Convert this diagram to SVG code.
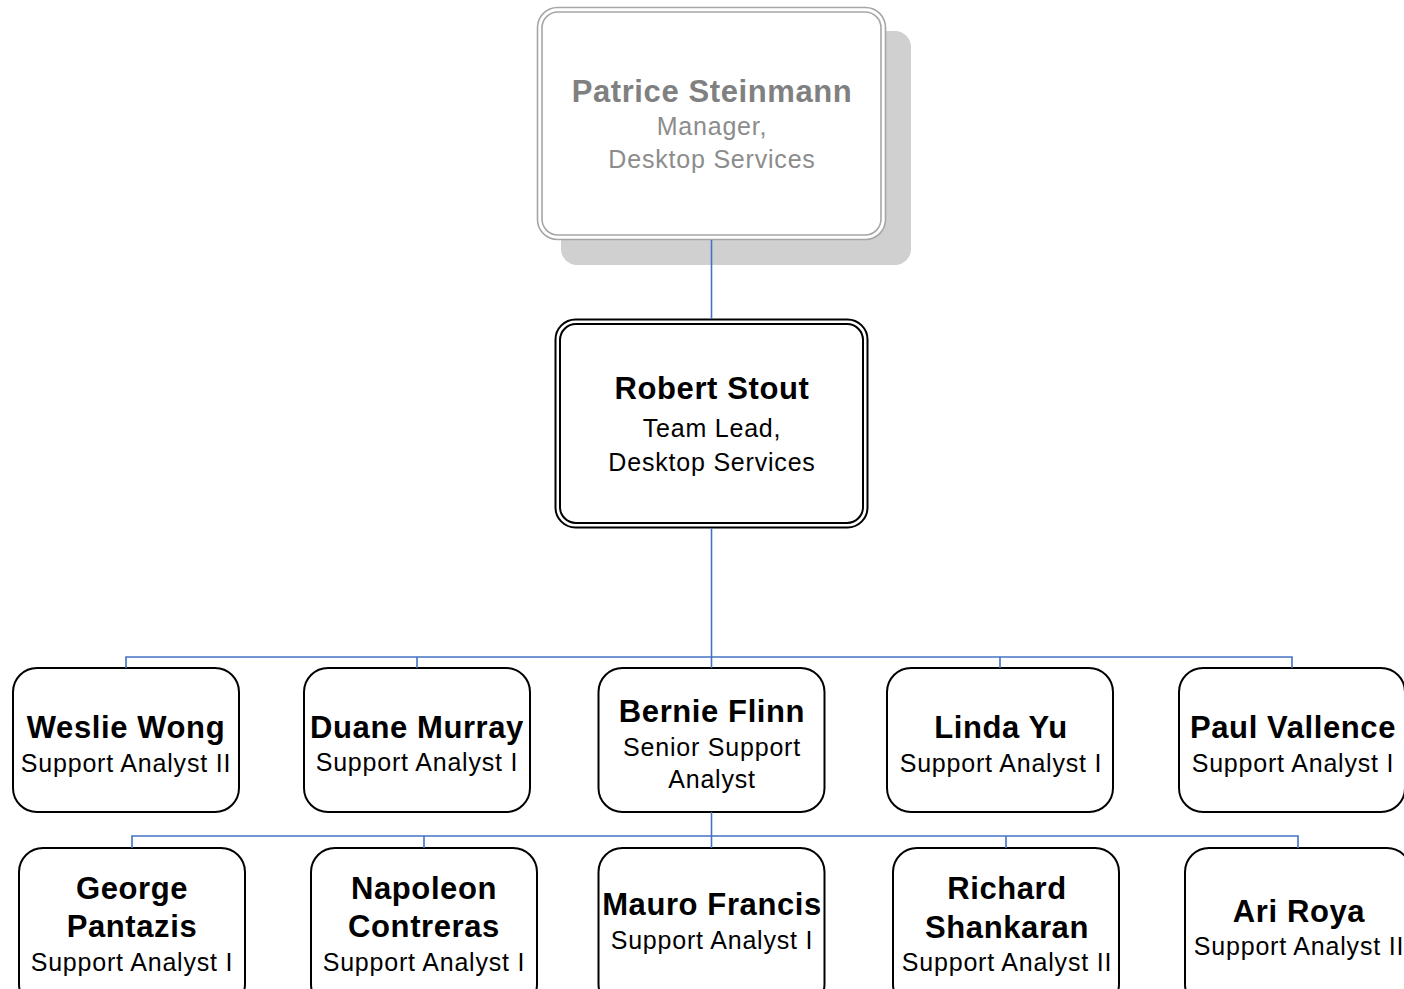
<svg xmlns="http://www.w3.org/2000/svg" width="1404" height="989" viewBox="0 0 1404 989">
<style>
.name{font-family:"Liberation Sans",Arial,sans-serif;font-weight:bold;font-size:31px;letter-spacing:0.6px;text-anchor:middle;fill:#000}
.title{font-family:"Liberation Sans",Arial,sans-serif;font-size:25px;letter-spacing:0.8px;text-anchor:middle;fill:#000}
.box{fill:#fff;stroke:#000;stroke-width:2}
.conn{fill:none;stroke:#4472c4;stroke-width:1.6}
.gray .name{fill:#808080}
.gray .title{fill:#8c8c8c}
</style>
<rect width="1404" height="989" fill="#fff"/>
<g id="patrice" class="gray">
<rect x="561" y="31" width="350" height="234" rx="16" fill="#d0d0d0"/>
<rect x="537.5" y="7.5" width="348" height="232" rx="20" fill="#fff" stroke="#a6a6a6" stroke-width="1.6"/>
<rect x="542" y="12" width="339" height="223" rx="16" fill="none" stroke="#a6a6a6" stroke-width="1.6"/>
<text class="name" x="712" y="102">Patrice Steinmann</text>
<text class="title" x="712" y="135">Manager,</text>
<text class="title" x="712" y="168">Desktop Services</text>
</g>
<g id="robert">
<rect x="555.5" y="319.5" width="312" height="208" rx="20" fill="#fff" stroke="#000" stroke-width="2"/>
<rect x="560" y="324" width="303" height="199" rx="16" fill="none" stroke="#000" stroke-width="2"/>
<text class="name" x="712" y="399">Robert Stout</text>
<text class="title" x="712" y="437">Team Lead,</text>
<text class="title" x="712" y="471">Desktop Services</text>
</g>
<g id="weslie">
<rect class="box" x="13" y="668" width="226" height="144" rx="24"/>
<text class="name" x="126" y="738">Weslie Wong</text>
<text class="title" x="126" y="772">Support Analyst II</text>
</g>
<g id="duane">
<rect class="box" x="304" y="668" width="226" height="144" rx="24"/>
<text class="name" x="417" y="738">Duane Murray</text>
<text class="title" x="417" y="771">Support Analyst I</text>
</g>
<g id="bernie">
<rect class="box" x="598.5" y="668" width="226" height="144" rx="24"/>
<text class="name" x="712" y="722">Bernie Flinn</text>
<text class="title" x="712" y="756">Senior Support</text>
<text class="title" x="712" y="788">Analyst</text>
</g>
<g id="linda">
<rect class="box" x="887" y="668" width="226" height="144" rx="24"/>
<text class="name" x="1001" y="738">Linda Yu</text>
<text class="title" x="1001" y="772">Support Analyst I</text>
</g>
<g id="paul">
<rect class="box" x="1179" y="668" width="226" height="144" rx="24"/>
<text class="name" x="1293" y="738">Paul Vallence</text>
<text class="title" x="1293" y="772">Support Analyst I</text>
</g>
<g id="george">
<rect class="box" x="19" y="848" width="226" height="160" rx="24"/>
<text class="name" x="132" y="899">George</text>
<text class="name" x="132" y="937">Pantazis</text>
<text class="title" x="132" y="971">Support Analyst I</text>
</g>
<g id="napoleon">
<rect class="box" x="311" y="848" width="226" height="160" rx="24"/>
<text class="name" x="424" y="899">Napoleon</text>
<text class="name" x="424" y="937">Contreras</text>
<text class="title" x="424" y="971">Support Analyst I</text>
</g>
<g id="mauro">
<rect class="box" x="598.5" y="848" width="226" height="160" rx="24"/>
<text class="name" x="712" y="915" letter-spacing="0">Mauro Francis</text>
<text class="title" x="712" y="949">Support Analyst I</text>
</g>
<g id="richard">
<rect class="box" x="893" y="848" width="226" height="160" rx="24"/>
<text class="name" x="1007" y="899">Richard</text>
<text class="name" x="1007" y="938">Shankaran</text>
<text class="title" x="1007" y="971">Support Analyst II</text>
</g>
<g id="ari">
<rect class="box" x="1185" y="848" width="226" height="160" rx="24"/>
<text class="name" x="1299" y="922">Ari Roya</text>
<text class="title" x="1299" y="955">Support Analyst II</text>
</g>
<g id="connectors">
<path class="conn" d="M711.5 240 V319"/>
<path class="conn" d="M711.5 528 V657" stroke-width="2.2"/>
<path class="conn" d="M126 668 V657 H1292 V668 M417 657 V668 M1000 657 V668 M711.5 657 V668"/>
<path class="conn" d="M711.5 812 V848" stroke-width="2.2"/>
<path class="conn" d="M132 848 V836 H1298 V848 M424 836 V848 M1006 836 V848"/>
</g>
</svg>
